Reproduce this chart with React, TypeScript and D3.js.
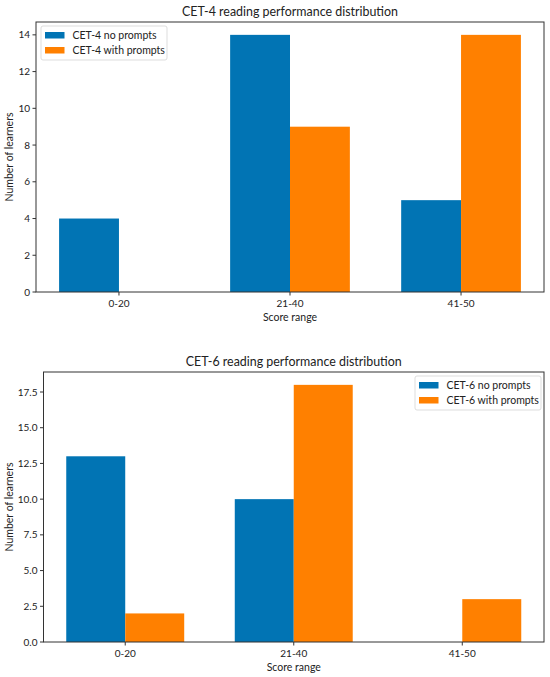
import React from 'react';
import * as d3 from 'd3';

const categories = ['0-20', '21-40', '41-50'];
const cet4NoPrompts = [4, 14, 5];
const cet4WithPrompts = [0, 9, 14];
const cet6NoPrompts = [13, 10, 0];
const cet6WithPrompts = [2, 18, 3];
const cet4Ticks = [0, 2, 4, 6, 8, 10, 12, 14];
const cet6Ticks = [0, 2.5, 5, 7.5, 10, 12.5, 15, 17.5];

const BLUE = '#0174B4';
const ORANGE = '#FF8000';
const FONT = 'Lato, "Noto Sans", sans-serif';

interface PanelProps {
  top: number;
  left: number;
  title: string;
  a: number[];
  b: number[];
  ticks: number[];
  tickFmt: (v: number) => string;
  labels: [string, string];
  legendRight?: boolean;
}

const Panel: React.FC<PanelProps> = ({ top, left, title, a, b, ticks, tickFmt, labels, legendRight }) => {
  const right = 544;
  const height = 270;
  const barW = 0.35;
  const n = categories.length;
  const xPad = (n - 1 + 2 * barW) * 0.05;
  const x = d3.scaleLinear().domain([-barW - xPad, n - 1 + barW + xPad]).range([left, right]);
  const ymax = Math.max(d3.max(a) ?? 0, d3.max(b) ?? 0) * 1.05;
  const y = d3.scaleLinear().domain([0, ymax]).range([top + height, top]);
  const bw = x(barW) - x(0);

  const lx = legendRight ? 415 : 41;
  const ly = top + 4;
  const lw = 126;

  return (
    <g fontFamily={FONT} fill="#222">
      <text x={(left + right) / 2} y={top - 6} textAnchor="middle" fontSize={12.5} textLength={216} lengthAdjust="spacingAndGlyphs">{title}</text>
      {categories.map((c, i) => (
        <g key={c}>
          {a[i] > 0 && (
            <rect x={x(i) - bw} y={y(a[i])} width={bw} height={y(0) - y(a[i])} fill={BLUE} />
          )}
          {b[i] > 0 && (
            <rect x={x(i)} y={y(b[i])} width={bw} height={y(0) - y(b[i])} fill={ORANGE} />
          )}
        </g>
      ))}
      <rect x={left} y={top} width={right - left} height={height} fill="none" stroke="#333" strokeWidth={1} />
      {ticks.map(t => (
        <g key={t}>
          <line x1={left - 3.5} x2={left} y1={y(t)} y2={y(t)} stroke="#333" />
          <text x={left - 6} y={y(t)} dy="0.35em" textAnchor="end" fontSize={10}>{tickFmt(t)}</text>
        </g>
      ))}
      {categories.map((c, i) => (
        <g key={c}>
          <line x1={x(i)} x2={x(i)} y1={top + height} y2={top + height + 3.5} stroke="#333" />
          <text x={x(i)} y={top + height + 15} textAnchor="middle" fontSize={10}>{c}</text>
        </g>
      ))}
      <text x={(left + right) / 2} y={top + height + 29} textAnchor="middle" fontSize={10.5}>Score range</text>
      <text
        transform={`translate(13,${top + height / 2}) rotate(-90)`}
        textAnchor="middle"
        fontSize={10.5}
      >
        Number of learners
      </text>
      <g>
        <rect x={lx} y={ly} width={lw} height={34} rx={2} fill="#fff" fillOpacity={0.8} stroke="#ddd" />
        <rect x={lx + 4} y={ly + 6} width={19.5} height={6.5} fill={BLUE} />
        <rect x={lx + 4} y={ly + 21} width={19.5} height={6.5} fill={ORANGE} />
        <text x={lx + 31.5} y={ly + 9.5} dy="0.35em" fontSize={10.5}>{labels[0]}</text>
        <text x={lx + 31.5} y={ly + 24.5} dy="0.35em" fontSize={10.5}>{labels[1]}</text>
      </g>
    </g>
  );
};

const App: React.FC = () => {
  return (
    <svg
      width={550}
      height={677}
      style={{ position: 'absolute', left: 0, top: 0, background: '#fff' }}
    >
      <Panel
        top={22}
        left={36}
        title="CET-4 reading performance distribution"
        a={cet4NoPrompts}
        b={cet4WithPrompts}
        ticks={cet4Ticks}
        tickFmt={d3.format('d')}
        labels={['CET-4 no prompts', 'CET-4 with prompts']}
      />
      <Panel
        top={372}
        left={43.5}
        title="CET-6 reading performance distribution"
        a={cet6NoPrompts}
        b={cet6WithPrompts}
        ticks={cet6Ticks}
        tickFmt={d3.format('.1f')}
        labels={['CET-6 no prompts', 'CET-6 with prompts']}
        legendRight
      />
    </svg>
  );
};

export default App;
